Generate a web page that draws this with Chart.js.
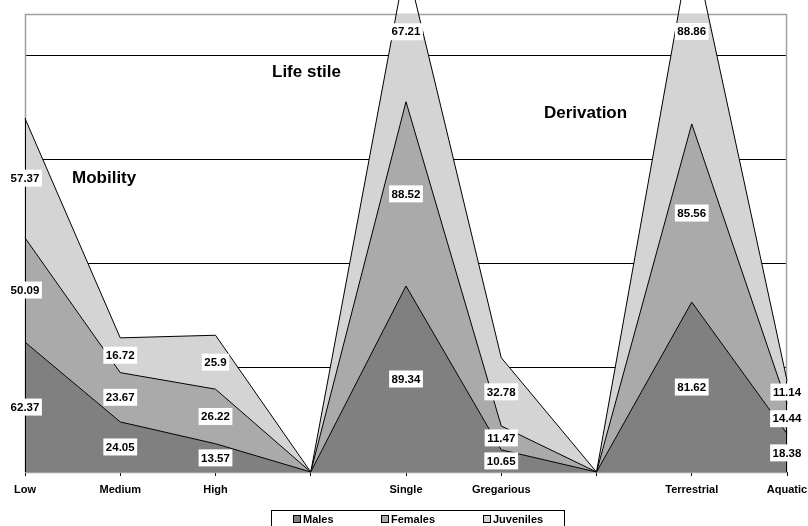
<!DOCTYPE html>
<html>
<head>
<meta charset="utf-8">
<script src="https://cdn.jsdelivr.net/npm/chart.js@4/dist/chart.umd.min.js"></script>
<style>
  body { margin: 0; background: #fff; }
  #wrap { width: 808px; height: 526px; position: relative; }
</style>
</head>
<body>
<div id="wrap"><canvas id="areaChart"></canvas></div>
<script>
// categories (blank ones are the gaps between groups)
const categories = ['Low', 'Medium', 'High', '', 'Single', 'Gregarious', '', 'Terrestrial', 'Aquatic'];

const males     = [62.37, 24.05, 13.57, 0, 89.34, 10.65, 0, 81.62, 18.38];
const females   = [50.09, 23.67, 26.22, 0, 88.52, 11.47, 0, 85.56, 14.44];
const juveniles = [57.37, 16.72, 25.9,  0, 67.21, 32.78, 0, 88.86, 11.14];

const seriesNames  = ['Males', 'Females', 'Juveniles'];
const seriesColors = ['#808080', '#aaaaaa', '#d4d4d4'];

const groupTitles = [
    { text: 'Mobility',   x: 72,  y: 178 },
    { text: 'Life stile', x: 272, y: 72 },
    { text: 'Derivation', x: 544, y: 113 }
];

const FONT = '"Liberation Sans", Arial, sans-serif';

// gray frame of the plot area, drawn under the areas
const framePlugin = {
    id: 'frame',
    beforeDatasetsDraw(chart) {
        const { ctx, chartArea: a } = chart;
        ctx.save();
        ctx.strokeStyle = '#a0a0a0';
        ctx.lineWidth = 1.5;
        ctx.strokeRect(a.left + 0.5, a.top + 0.5, a.right - a.left - 1, a.bottom - a.top);
        ctx.restore();
    }
};

// value boxes, edge outlines, group titles and the boxed legend
const decorPlugin = {
    id: 'decor',
    afterDatasetsDraw(chart) {
        const { ctx } = chart;
        const x = chart.scales.x, y = chart.scales.y;
        const sets = chart.data.datasets;
        const last = categories.length - 1;

        // black outline on the left and right edges of the stack
        ctx.save();
        ctx.strokeStyle = '#000';
        ctx.lineWidth = 1;
        [0, last].forEach(i => {
            let top = 0;
            sets.forEach(ds => { top += ds.data[i]; });
            const px = Math.round(x.getPixelForValue(i)) + (i === 0 ? 0.5 : -0.5);
            ctx.beginPath();
            ctx.moveTo(px, y.getPixelForValue(0));
            ctx.lineTo(px, y.getPixelForValue(top));
            ctx.stroke();
        });

        ctx.font = 'bold 11.5px ' + FONT;
        ctx.textAlign = 'center';
        ctx.textBaseline = 'middle';
        categories.forEach((c, i) => {
            let base = 0;
            sets.forEach(ds => {
                const v = ds.data[i];
                if (v > 0) {
                    const cx = x.getPixelForValue(i);
                    const cy = y.getPixelForValue(base + v / 2);
                    const txt = String(v);
                    const w = ctx.measureText(txt).width + 5;
                    ctx.fillStyle = '#fff';
                    ctx.fillRect(cx - w / 2, cy - 8.5, w, 17);
                    ctx.fillStyle = '#000';
                    ctx.fillText(txt, cx, cy + 0.5);
                }
                base += v;
            });
        });
        ctx.restore();
    },
    afterDraw(chart) {
        const { ctx } = chart;
        ctx.save();
        ctx.fillStyle = '#000';
        ctx.font = 'bold 17px ' + FONT;
        ctx.textAlign = 'left';
        ctx.textBaseline = 'middle';
        groupTitles.forEach(t => ctx.fillText(t.text, t.x, t.y));

        // legend
        ctx.strokeStyle = '#000';
        ctx.lineWidth = 1;
        ctx.strokeRect(271.5, 510.5, 293, 30);
        const itemX = [293, 381, 483];
        ctx.font = 'bold 11px ' + FONT;
        chart.data.datasets.forEach((ds, i) => {
            ctx.fillStyle = ds.backgroundColor;
            ctx.fillRect(itemX[i], 515, 8, 8);
            ctx.strokeRect(itemX[i] + 0.5, 515.5, 7, 7);
            ctx.fillStyle = '#000';
            ctx.fillText(ds.label, itemX[i] + 10, 519.5);
        });
        ctx.restore();
    }
};

const ctx = document.getElementById('areaChart').getContext('2d');
new Chart(ctx, {
    type: 'line',
    data: {
        labels: categories,
        datasets: [males, females, juveniles].map((d, i) => ({
            label: seriesNames[i],
            data: d,
            backgroundColor: seriesColors[i],
            borderColor: '#000',
            borderWidth: 1,
            fill: i === 0 ? 'origin' : '-1',
            tension: 0,
            pointRadius: 0,
            clip: false
        }))
    },
    options: {
        responsive: true,
        maintainAspectRatio: false,
        animation: false,
        layout: { padding: { left: 25, right: 21, top: 14, bottom: 0 } },
        plugins: {
            legend: { display: false },
            tooltip: { enabled: false }
        },
        scales: {
            x: {
                offset: false,
                grid: { drawOnChartArea: false, drawTicks: true, tickLength: 4, color: '#000' },
                border: { display: true, color: '#000', width: 1 },
                ticks: {
                    color: '#000',
                    font: { family: FONT, size: 11, weight: 'bold' },
                    padding: 7,
                    maxRotation: 0,
                    autoSkip: false
                },
                afterFit(scale) {
                    scale.height = 54;
                    scale.paddingLeft = 0;
                    scale.paddingRight = 0;
                }
            },
            y: {
                stacked: true,
                min: 0,
                max: 220,
                grid: {
                    drawTicks: false,
                    color: c => (c.tick.value === 220 ? 'rgba(0,0,0,0)' : '#000'),
                    lineWidth: 1
                },
                border: { display: false },
                ticks: { display: false, stepSize: 50 },
                afterFit(scale) { scale.width = 0; }
            }
        }
    },
    plugins: [framePlugin, decorPlugin]
});
</script>
</body>
</html>
